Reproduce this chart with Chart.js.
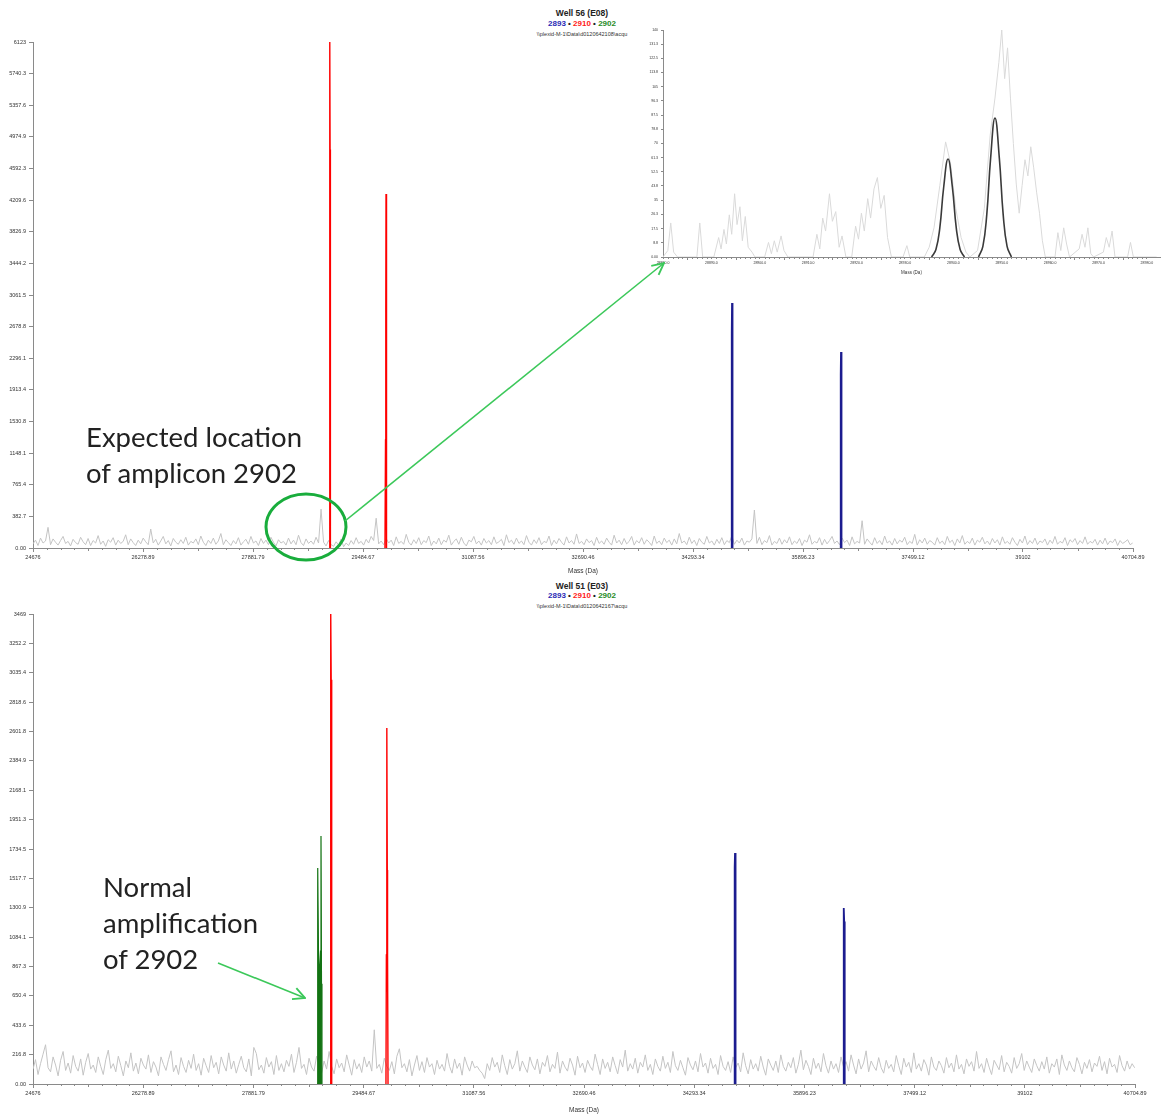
<!DOCTYPE html>
<html>
<head>
<meta charset="utf-8">
<script src="https://cdn.jsdelivr.net/npm/chart.js@4.4.1/dist/chart.umd.min.js"></script>
<style>
  body { margin: 0; background: #fff; width: 1163px; height: 1114px; position: relative; overflow: hidden; font-family: "Liberation Sans", Arial, sans-serif; }
  canvas { position: absolute; }
  .ttl { position: absolute; left: 582px; transform: translateX(-50%); white-space: nowrap; text-align: center; }
  .t1 { font-weight: bold; font-size: 8.5px; color: #222; }
  .t2 { font-weight: bold; font-size: 8px; color: #222; }
  .t3 { font-size: 5.5px; color: #333; }
  .note { position: absolute; font-family: Lato, "Open Sans", sans-serif; font-size: 27.5px; color: #222; line-height: 36px; }
  svg { position: absolute; left: 0; top: 0; pointer-events: none; }
</style>
</head>
<body>
<div class="ttl t1" style="top:8px">Well 56 (E08)</div>
<div class="ttl t2" style="top:19px"><span style="color:#2b2bb5">2893</span> • <span style="color:#ff1a1a">2910</span> • <span style="color:#1f8c1f">2902</span></div>
<div class="ttl t3" style="top:31px">\\plexid-M-1\Data\d0120642108\acqu</div>

<div class="ttl t1" style="top:581px">Well 51 (E03)</div>
<div class="ttl t2" style="top:591px"><span style="color:#2b2bb5">2893</span> • <span style="color:#ff1a1a">2910</span> • <span style="color:#1f8c1f">2902</span></div>
<div class="ttl t3" style="top:603px">\\plexid-M-1\Data\d0120642167\acqu</div>

<canvas id="top" width="1163" height="575" style="left:0;top:0"></canvas>
<canvas id="inset" width="523" height="255" style="left:640px;top:20px"></canvas>
<canvas id="bottom" width="1163" height="539" style="left:0;top:575px"></canvas>

<div class="note" style="left:86px;top:419px">Expected location<br>of amplicon 2902</div>
<div class="note" style="left:103px;top:869px">Normal<br>amplification<br>of 2902</div>

<svg width="1163" height="1114">
  <defs>
    <marker id="arr" viewBox="0 0 12 12" refX="11" refY="6" markerWidth="14" markerHeight="14" markerUnits="userSpaceOnUse" orient="auto">
      <path d="M1,1 L11,6 L1,11" fill="none" stroke="#3cc85a" stroke-width="1.6"/>
    </marker>
  </defs>
  <ellipse cx="306" cy="527" rx="40" ry="33" fill="none" stroke="#19ad3c" stroke-width="3"/>
  <line x1="345" y1="521" x2="664" y2="263" stroke="#3cc85a" stroke-width="1.6" marker-end="url(#arr)"/>
  <line x1="218" y1="963" x2="305" y2="998" stroke="#3cc85a" stroke-width="1.6" marker-end="url(#arr)"/>
</svg>

<script>
// axes
const xTickLabels = ['24676', '26278.89', '27881.79', '29484.67', '31087.56', '32690.46', '34293.34', '35896.23', '37499.12', '39102', '40704.89'];
const topYTickLabels = ['0.00', '382.7', '765.4', '1148.1', '1530.8', '1913.4', '2296.1', '2678.8', '3061.5', '3444.2', '3826.9', '4209.6', '4592.3', '4974.9', '5357.6', '5740.3', '6123'];
const bottomYTickLabels = ['0.00', '216.8', '433.6', '650.4', '867.3', '1084.1', '1300.9', '1517.7', '1734.5', '1951.3', '2168.1', '2384.9', '2601.8', '2818.6', '3035.4', '3252.2', '3469'];
const insetXTickLabels = ['28880.0', '28890.0', '28900.0', '28910.0', '28920.0', '28930.0', '28940.0', '28950.0', '28960.0', '28970.0', '28980.0'];
const insetYTickLabels = ['0.00', '8.8', '17.5', '26.3', '35', '43.8', '52.5', '61.3', '70', '78.8', '87.5', '96.3', '105', '113.8', '122.5', '131.3', '140'];

// spectrum background (gray), sampled every noiseStep Da
const noiseStart = 24676;
const noiseStep = 36.5;
const topNoise = [
  50,95,30,120,60,85,250,40,110,70,35,90,140,55,80,25,105,65,45,130,
  75,40,115,30,90,60,150,45,85,20,100,70,125,35,95,55,80,160,40,110,
  65,30,95,50,120,75,40,230,60,105,35,85,140,50,90,25,115,70,45,100,
  55,130,35,80,60,110,40,145,70,30,95,55,120,45,85,175,40,100,65,30,
  90,50,125,35,75,105,45,140,60,85,30,115,55,95,40,130,70,25,100,60,
  80,35,120,50,95,40,155,65,30,110,55,85,45,130,60,470,70,25,90,40,
  20,75,35,110,15,60,30,90,45,125,55,80,35,105,60,140,90,360,50,85,
  40,115,60,95,30,135,55,80,45,165,70,35,100,55,125,40,90,65,145,30,
  85,50,120,40,95,70,155,35,80,110,45,130,60,25,95,75,140,50,85,35,
  115,60,90,40,135,55,75,105,30,160,65,95,45,120,55,85,40,150,70,35,
  100,55,125,40,80,65,145,30,95,50,115,70,35,135,60,90,45,170,55,80,
  40,110,65,90,30,130,55,85,45,120,70,35,155,60,95,40,115,50,80,140,
  35,90,60,125,45,100,70,30,145,55,85,40,120,65,95,35,110,50,175,60,
  85,40,130,55,95,30,115,70,45,140,60,85,35,105,55,125,40,90,65,150,
  45,95,60,120,35,85,70,110,460,55,130,40,90,65,150,35,80,55,120,45,
  100,60,135,40,85,55,115,30,95,70,160,45,80,60,125,35,105,50,90,140,
  55,85,40,120,65,95,30,135,50,80,60,330,45,110,70,35,125,55,90,40,
  145,60,85,35,115,50,95,70,130,40,80,55,165,35,100,60,120,45,90,70,
  35,125,55,85,40,140,65,95,30,110,60,150,45,80,55,120,35,95,70,130,
  50,85,40,115,60,100,35,135,55,80,45,125,70,30,105,60,145,40,90,55,
  120,40,85,65,110,35,95,55,140,45,80,60,125,30,100,70,115,40,90,55,
  135,45,80,60,105,35,95,50,120,40,85,65,110,30,90,55,75,100,40,60
];
const bottomNoise = [
  110,180,70,150,220,290,120,90,200,140,60,175,240,100,155,80,210,130,95,185,
  65,160,225,110,140,85,200,130,70,180,250,115,150,90,205,135,60,170,120,230,
  95,155,75,190,140,110,215,85,165,125,60,200,145,100,180,245,90,140,70,195,
  130,85,175,115,220,100,150,65,190,135,85,210,120,160,75,200,140,95,230,110,
  170,80,145,205,120,90,185,60,270,225,105,140,80,195,125,165,70,210,100,150,
  90,175,130,220,85,160,270,115,145,70,190,125,95,205,140,80,170,110,240,130,
  75,185,120,155,90,215,140,65,180,110,150,85,200,125,170,95,400,115,145,80,
  190,130,100,165,75,205,260,120,150,90,180,60,140,210,100,165,85,195,125,150,
  70,175,110,145,95,225,130,80,185,115,155,65,200,140,95,170,120,130,100,80,
  40,150,100,195,125,160,85,215,135,70,180,110,150,245,95,170,125,85,200,140,
  105,185,75,160,130,210,90,145,115,235,80,170,125,95,190,140,65,205,120,155,
  85,175,130,100,220,145,70,185,115,160,90,200,135,75,180,125,250,95,150,110,
  190,80,160,125,215,100,145,70,185,130,95,205,115,160,85,240,135,100,175,120,
  65,195,140,105,170,90,225,125,155,80,190,115,145,70,210,130,100,165,85,200,
  120,155,90,230,135,75,180,110,150,95,205,125,65,185,140,100,170,85,215,130,
  95,160,120,195,80,145,250,105,175,130,70,190,115,155,90,225,135,80,170,110,
  150,85,200,125,165,95,215,140,75,185,110,155,245,90,170,130,100,195,120,80,
  175,115,145,90,210,135,70,190,125,160,85,230,110,150,95,180,140,65,200,125,
  100,170,135,80,195,120,155,90,215,110,145,75,185,130,165,95,240,115,150,85,
  190,125,70,175,140,105,210,90,160,130,80,195,115,150,225,100,170,125,85,185,
  135,95,165,110,200,80,150,125,185,70,215,140,100,170,120,90,195,145,75,160,
  115,180,90,155,130,205,100,165,75,190,125,145,85,210,135,95,170,110,150,120
];

// assigned peaks, Well 56 (E08)
const topRedMass = [28990, 28998, 29001, 29003, 29005, 29007, 29012, null, 29805, 29813, 29817, 29820, 29822, 29826, 29834];
const topRedInt  = [0, 1100, 4822, 6123, 4822, 1100, 0, null, 0, 1306, 2856, 4284, 2856, 1306, 0];
const topBlueMass = [34848, 34856, 34860, 34862, 34864, 34868, 34876, null, 36436, 36444, 36448, 36450, 36452, 36456, 36464];
const topBlueInt  = [0, 400, 2600, 2965, 2600, 400, 0, null, 0, 300, 2100, 2372, 2100, 300, 0];

// assigned peaks, Well 51 (E03)
const botGreenMass = [28807, 28814, 28821, 28828, 28843, 28858, 28865, 28872, 28879];
const botGreenInt  = [0, 740, 1594, 980, 740, 980, 1830, 740, 0];
const botRedMass = [28996, 29003, 29007, 29010, 29013, 29017, 29024, null, 29810, 29816, 29820, 29825, 29829, 29833, 29840];
const botRedInt  = [0, 1200, 2983, 3469, 2983, 1200, 0, null, 0, 952, 1580, 2628, 1580, 952, 0];
const botBlueMass = [34873, 34880, 34884, 34887, 34890, 34894, 34901, null, 36458, 36465, 36469, 36472, 36475, 36479, 36486];
const botBlueInt  = [0, 300, 1600, 1705, 1600, 300, 0, null, 0, 250, 1200, 1299, 1200, 250, 0];

// zoomed inset around expected 2902 location
const insetNoiseMass = [28880.0,28881.0,28881.6,28882.2,28883.0,28887.0,28887.6,28888.2,28890.5,28891.5,28892.0,28892.6,28893.1,28893.7,28894.2,28894.8,28895.3,28895.9,28896.4,28897.0,28897.6,28898.4,28899.0,28901.0,28901.8,28902.4,28903.0,28903.6,28904.4,28905.0,28905.8,28911.0,28911.8,28912.4,28913.0,28913.6,28914.4,28915.0,28915.7,28916.4,28917.0,28917.8,28919.0,28919.8,28920.4,28921.0,28921.6,28922.3,28922.9,28923.6,28924.3,28925.0,28925.7,28926.4,28927.2,28929.6,28930.4,28931.0,28934.0,28935.0,28936.0,28937.2,28938.4,28939.4,28940.5,28941.6,28942.6,28943.4,28945.0,28946.4,28947.6,28948.6,28949.4,28950.0,28950.6,28951.2,28951.8,28952.4,28953.0,28953.6,28954.2,28954.8,28955.4,28956.0,28956.6,28957.2,28957.8,28958.4,28959.0,28961.0,28961.6,28962.2,28962.8,28963.4,28964.0,28966.0,28966.6,28967.2,28967.8,28968.4,28969.0,28971.0,28971.6,28972.2,28972.8,28973.4,28976.0,28976.6,28977.2,28982.0];
const insetNoiseInt  = [0,4,21,3,0,0,21,0,0,12,5,17,8,26,14,39,20,31,10,25,6,3,0,0,9,2,10,3,13,4,0,0,14,5,24,16,39,22,28,6,13,0,0,19,11,27,16,36,24,42,49,30,38,12,0,0,7,0,0,6,18,44,71,58,30,12,3,0,4,30,75,98,120,140,110,129,98,70,45,27,44,60,50,68,55,40,27,10,0,0,15,4,18,8,0,5,14,6,18,2,0,3,12,6,16,0,0,9,0,0];
const insetFitMass = [28935.5, 28936.4, 28937.2, 28938.0, 28938.9, 28939.8, 28940.6, 28941.4, 28942.3, null, 28945.2, 28946.1, 28946.9, 28947.7, 28948.6, 28949.5, 28950.3, 28951.1, 28952.0];
const insetFitInt  = [0, 4.6, 18, 43, 60.4, 43, 18, 4.6, 0, null, 0, 6.5, 26, 61, 85.7, 61, 26, 6.5, 0];

const pts = (xs, ys) => xs.map((x, i) => ({ x: x, y: ys[i] }));
const noisePts = arr => arr.map((v, i) => ({ x: noiseStart + i * noiseStep, y: v }));

// small tick marks between the labelled ones on the mass axis
const minorTicks = {
  id: 'minorTicks',
  afterDraw(chart, args, opts) {
    const s = chart.scales.x;
    const ctx = chart.ctx;
    const n = opts.count || 8;
    const vals = s.ticks.map(t => t.value);
    ctx.save();
    ctx.strokeStyle = '#8a8a8a';
    ctx.lineWidth = 1;
    for (let i = 0; i < vals.length - 1; i++) {
      for (let k = 1; k < n; k++) {
        const px = Math.round(s.getPixelForValue(vals[i] + (vals[i + 1] - vals[i]) * k / n)) + 0.5;
        ctx.beginPath();
        ctx.moveTo(px, s.top);
        ctx.lineTo(px, s.top + (k === n / 2 ? 3 : 2));
        ctx.stroke();
      }
    }
    ctx.restore();
  }
};

function spectrumOptions(yLabels, xLabels, o) {
  return {
    responsive: false,
    animation: false,
    events: [],
    layout: { padding: { top: o.top, right: o.right, left: 0, bottom: 0 } },
    elements: { point: { radius: 0 }, line: { tension: 0, borderWidth: 1 } },
    plugins: { legend: { display: false }, tooltip: { enabled: false }, minorTicks: { count: o.minor } },
    scales: {
      x: {
        type: 'linear',
        min: parseFloat(xLabels[0]),
        max: o.xMax,
        afterBuildTicks: s => { s.ticks = xLabels.map(v => ({ value: parseFloat(v) })); },
        afterFit: s => { s.height = o.xh; },
        border: { color: '#8a8a8a' },
        grid: { drawOnChartArea: false, tickLength: o.tick, color: '#8a8a8a' },
        ticks: { autoSkip: false, maxRotation: 0, padding: 2, color: '#333', font: { family: 'Liberation Sans', size: o.font },
                 callback: (v, i) => xLabels[i] },
        title: { display: o.xTitle, text: 'Mass (Da)', color: '#333', font: { family: 'Liberation Sans', size: o.font + 1 }, padding: { top: 4, bottom: 0 } }
      },
      y: {
        min: 0,
        max: parseFloat(yLabels[yLabels.length - 1]),
        afterBuildTicks: s => { s.ticks = yLabels.map(v => ({ value: parseFloat(v) })); },
        afterFit: s => { s.width = o.yw; },
        border: { color: '#8a8a8a' },
        grid: { drawOnChartArea: false, tickLength: o.tick, color: '#8a8a8a' },
        ticks: { autoSkip: false, padding: 3, color: '#333', font: { family: 'Liberation Sans', size: o.font },
                 callback: (v, i) => yLabels[i] }
      }
    }
  };
}

// Well 56 (E08)
new Chart(document.getElementById('top'), {
  type: 'line',
  data: {
    datasets: [
      { data: pts(topRedMass, topRedInt), borderColor: '#ff0000', borderWidth: 1.4, spanGaps: false, order: 1 },
      { data: pts(topBlueMass, topBlueInt), borderColor: '#1c1c8f', borderWidth: 1.8, spanGaps: false, order: 1 },
      { data: noisePts(topNoise), borderColor: '#c4c4c4', borderWidth: 1, order: 5 }
    ]
  },
  options: spectrumOptions(topYTickLabels, xTickLabels, { top: 42, right: 30, xh: 27, yw: 33, tick: 4, font: 5.5, minor: 8, xMax: 40704.89, xTitle: true }),
  plugins: [minorTicks]
});

// Well 51 (E03)
new Chart(document.getElementById('bottom'), {
  type: 'line',
  data: {
    datasets: [
      { data: pts(botGreenMass, botGreenInt), borderColor: '#137313', backgroundColor: '#137313', fill: 'origin', borderWidth: 1.2, order: 1 },
      { data: pts(botRedMass, botRedInt), borderColor: '#ff0000', borderWidth: 1.4, spanGaps: false, order: 1 },
      { data: pts(botBlueMass, botBlueInt), borderColor: '#1c1c8f', borderWidth: 1.8, spanGaps: false, order: 1 },
      { data: noisePts(bottomNoise), borderColor: '#c4c4c4', borderWidth: 1, order: 5 }
    ]
  },
  options: spectrumOptions(bottomYTickLabels, xTickLabels, { top: 39, right: 28, xh: 30, yw: 33, tick: 4, font: 5.5, minor: 8, xMax: 40704.89, xTitle: true }),
  plugins: [minorTicks]
});

// inset
new Chart(document.getElementById('inset'), {
  type: 'line',
  data: {
    datasets: [
      { data: pts(insetFitMass, insetFitInt), borderColor: '#3a3a3a', borderWidth: 1.6, tension: 0.45, spanGaps: false, order: 1 },
      { data: pts(insetNoiseMass, insetNoiseInt), borderColor: '#dadada', borderWidth: 1, order: 5 }
    ]
  },
  options: spectrumOptions(insetYTickLabels, insetXTickLabels, { top: 10, right: 3, xh: 18, yw: 23, tick: 2, font: 3.5, minor: 10, xMax: 28982.7, xTitle: true }),
  plugins: [minorTicks]
});
</script>
</body>
</html>
